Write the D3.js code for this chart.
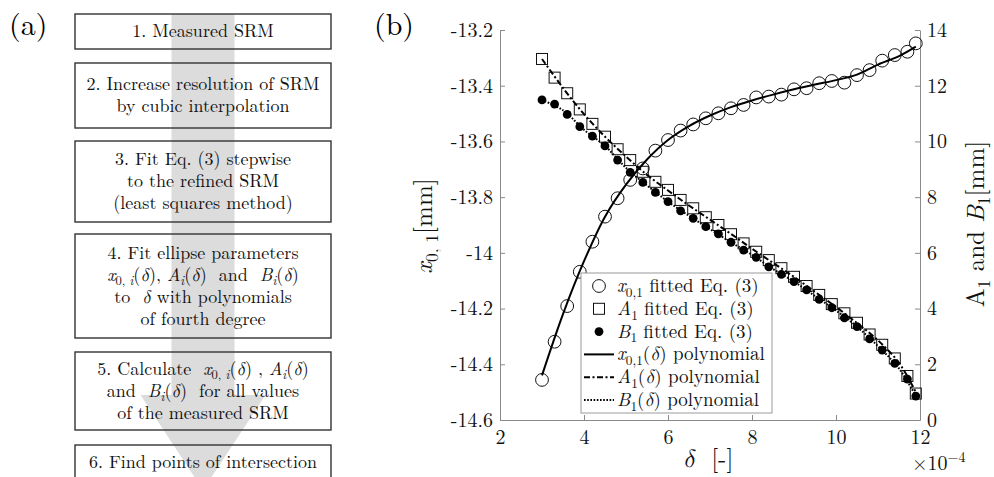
<!DOCTYPE html>
<html>
<head>
<meta charset="utf-8">
<script src="https://cdn.jsdelivr.net/npm/d3@7"></script>
<style>
  body { margin: 0; background: #fff; }
  svg { display: block; }
  text { white-space: pre; font-family: "Latin Modern Roman", "Latin Modern Math", "Liberation Serif", serif; }
</style>
</head>
<body>
<div id="chart"></div>
<script>
// fitted values, one per delta step (delta in 1e-4)
const delta = [3.0, 3.3, 3.6, 3.9, 4.2, 4.5, 4.8, 5.1, 5.4, 5.7, 6.0, 6.3, 6.6, 6.9, 7.2, 7.5,
  7.8, 8.1, 8.4, 8.7, 9.0, 9.3, 9.6, 9.9, 10.2, 10.5, 10.8, 11.1, 11.4, 11.7, 11.9];
const x01Fit = [-14.456, -14.319, -14.191, -14.068, -13.960, -13.870, -13.804, -13.738, -13.697,
  -13.633, -13.595, -13.561, -13.539, -13.517, -13.499, -13.481, -13.469, -13.442, -13.439,
  -13.432, -13.413, -13.409, -13.391, -13.383, -13.389, -13.362, -13.344, -13.310, -13.290,
  -13.278, -13.248];
const A1Fit = [12.96, 12.29, 11.73, 11.15, 10.63, 10.17, 9.72, 9.33, 8.91, 8.55, 8.26, 7.90, 7.60,
  7.28, 7.00, 6.67, 6.34, 6.04, 5.74, 5.45, 5.14, 4.81, 4.49, 4.16, 3.83, 3.49, 3.07, 2.70,
  2.21, 1.58, 0.95];
const B1Fit = [11.49, 11.34, 10.97, 10.53, 10.19, 9.84, 9.33, 8.89, 8.53, 8.17, 7.84, 7.51, 7.24,
  6.94, 6.68, 6.38, 6.10, 5.84, 5.50, 5.23, 4.97, 4.67, 4.33, 4.03, 3.67, 3.35, 2.91, 2.51,
  2.03, 1.47, 0.86];

// polynomial curves
const polyDelta = [3.0, 3.5, 4.0, 4.5, 5.0, 5.5, 6.0, 6.5, 7.0, 7.5, 8.0, 8.5, 9.0, 9.5, 10.0,
  10.5, 11.0, 11.5, 11.9];
const x01Poly = [-14.44, -14.22, -14.03, -13.87, -13.755, -13.665, -13.595, -13.545, -13.507,
  -13.477, -13.453, -13.432, -13.413, -13.396, -13.380, -13.360, -13.324, -13.294, -13.26];
const A1Poly = [12.96, 11.92, 10.98, 10.17, 9.46, 8.80, 8.24, 7.70, 7.19, 6.68, 6.15, 5.64, 5.14,
  4.60, 4.06, 3.48, 2.86, 2.05, 1.0];
const B1Poly = [11.49, 11.12, 10.42, 9.84, 9.05, 8.42, 7.84, 7.33, 6.85, 6.38, 5.93, 5.42, 4.97,
  4.45, 3.93, 3.35, 2.65, 1.85, 0.86];

const xTicks = [2, 4, 6, 8, 10, 12];
const yLeftTicks = [-14.6, -14.4, -14.2, -14, -13.8, -13.6, -13.4, -13.2];
const yRightTicks = [0, 2, 4, 6, 8, 10, 12, 14];

const legendItems = [
  { label: "$x$_{0,1} fitted Eq. (3)", kind: "circle" },
  { label: "$A$_{1} fitted Eq. (3)", kind: "square" },
  { label: "$B$_{1} fitted Eq. (3)", kind: "dot" },
  { label: "$x$_{0,1}($δ$) polynomial", kind: "solid" },
  { label: "$A$_{1}($δ$) polynomial", kind: "dashdot" },
  { label: "$B$_{1}($δ$) polynomial", kind: "dotted" }
];

const steps = [
  ["1. Measured SRM"],
  ["2. Increase resolution of SRM", "by cubic interpolation"],
  ["3. Fit Eq. (3) stepwise", "to the refined SRM", "(least squares method)"],
  ["4. Fit ellipse parameters", "$x$_{0, $i$}($δ$), $A$_{$i$}($δ$)  and  $B$_{$i$}($δ$)",
    "to  $δ$ with polynomials", "of fourth degree"],
  ["5. Calculate  $x$_{0, $i$}($δ$) , $A$_{$i$}($δ$)", "and  $B$_{$i$}($δ$)  for all values",
    "of the measured SRM"],
  ["6. Find points of intersection"]
];

const W = 994, H = 477;
const FONT = "'Latin Modern Roman', 'Latin Modern Math', 'Liberation Serif', serif";
const svg = d3.select("#chart").append("svg")
  .attr("width", W).attr("height", H);

// tiny markup: $..$ italic, _{..} subscript, ^{..} superscript
function parseMath(str) {
  const out = [];
  let italic = false, sub = false, sup = false, buf = "";
  const flush = () => { if (buf) { out.push({ t: buf, i: italic, sub, sup }); buf = ""; } };
  for (let k = 0; k < str.length; k++) {
    const c = str[k];
    if (c === "$") { flush(); italic = !italic; }
    else if (c === "_" && str[k + 1] === "{") { flush(); sub = true; k++; }
    else if (c === "^" && str[k + 1] === "{") { flush(); sup = true; k++; }
    else if (c === "}" && (sub || sup)) { flush(); sub = false; sup = false; }
    else buf += c;
  }
  flush();
  return out;
}

function mathText(g, str, size) {
  const text = g.append("text").style("font-size", size + "px")
    .style("font-family", FONT).attr("fill", "#111");
  let shift = 0;
  parseMath(str).forEach(p => {
    const target = p.sub ? size * 0.25 : p.sup ? -size * 0.42 : 0;
    text.append("tspan").text(p.t)
      .attr("dy", target - shift)
      .style("font-style", p.i ? "italic" : "normal")
      .style("font-size", (p.sub || p.sup) ? (size * 0.7) + "px" : null);
    shift = target;
  });
  return text;
}

// ---------- panel (a): flowchart ----------
const flow = svg.append("g");
const boxX = 75, boxW = 256, arrowC = 203;
const boxTop = [14, 63, 141, 234, 352, 445];
const boxH = [35, 65, 81, 104, 78, 60];

flow.append("path")
  .attr("d", d3.line()([[arrowC - 31.5, 14], [arrowC + 31.5, 14], [arrowC + 31.5, 395],
    [arrowC + 62.5, 395], [arrowC, 490], [arrowC - 62.5, 395], [arrowC - 31.5, 395]]) + "Z")
  .attr("fill", "#dcdcdc");

steps.forEach((lines, i) => {
  flow.append("rect")
    .attr("x", boxX).attr("y", boxTop[i])
    .attr("width", boxW).attr("height", boxH[i])
    .attr("fill", "none").attr("stroke", "#333").attr("stroke-width", 1.4);
  const cy = i === steps.length - 1 ? boxTop[i] + 17 : boxTop[i] + boxH[i] / 2;
  lines.forEach((ln, j) => {
    mathText(flow, ln, 18)
      .attr("x", boxX + boxW / 2)
      .attr("y", cy + (j - (lines.length - 1) / 2) * 22 + 5.5)
      .attr("text-anchor", "middle");
  });
});

svg.append("text").attr("x", 9).attr("y", 35).style("font-family", FONT).style("font-size", "30px").text("(a)");
svg.append("text").attr("x", 374).attr("y", 35).style("font-family", FONT).style("font-size", "30px").text("(b)");

// ---------- panel (b): chart ----------
const x = d3.scaleLinear().domain([2, 12]).range([500, 920]);
const yL = d3.scaleLinear().domain([-14.6, -13.2]).range([420, 30]);
const yR = d3.scaleLinear().domain([0, 14]).range([420, 30]);

const fmt = d => String(Math.round(d * 10) / 10);

const styleAxis = g => {
  g.select(".domain").attr("stroke", "#8a8a8a");
  g.selectAll(".tick line").attr("stroke", "#8a8a8a");
  g.selectAll(".tick text").attr("fill", "#111")
    .style("font-size", "20px").style("font-family", FONT);
};

svg.append("g").attr("transform", "translate(0,420)")
  .call(d3.axisBottom(x).tickValues(xTicks).tickSizeInner(-5).tickSizeOuter(0).tickPadding(10))
  .call(styleAxis);
svg.append("g").attr("transform", "translate(500,0)")
  .call(d3.axisLeft(yL).tickValues(yLeftTicks).tickFormat(fmt).tickSizeInner(-5).tickSizeOuter(0).tickPadding(7))
  .call(styleAxis);
svg.append("g").attr("transform", "translate(920,0)")
  .call(d3.axisRight(yR).tickValues(yRightTicks).tickSizeInner(-5).tickSizeOuter(0).tickPadding(7))
  .call(styleAxis);

// axis labels
mathText(svg, "$x$_{0, 1}[mm]", 25)
  .attr("text-anchor", "middle")
  .attr("transform", "translate(432,226) rotate(-90)");
mathText(svg, "A_{1} and $B$_{1}[mm]", 25)
  .attr("text-anchor", "middle")
  .attr("transform", "translate(984,224) rotate(-90)");
mathText(svg, "$δ$  [-]", 25)
  .attr("x", 708).attr("y", 467).attr("text-anchor", "middle");
mathText(svg, "×10^{−4}", 20)
  .attr("x", 912).attr("y", 470);

// polynomial lines
const lineL = d3.line().x((d, i) => x(polyDelta[i])).y(d => yL(d)).curve(d3.curveCatmullRom);
const lineR = d3.line().x((d, i) => x(polyDelta[i])).y(d => yR(d)).curve(d3.curveCatmullRom);

const plot = svg.append("g");

// markers
plot.selectAll(".sq").data(A1Fit).join("rect")
  .attr("x", (d, i) => x(delta[i]) - 5.5).attr("y", d => yR(d) - 5.5)
  .attr("width", 11).attr("height", 11)
  .attr("fill", "none").attr("stroke", "#111").attr("stroke-width", 1);
plot.selectAll(".dot").data(B1Fit).join("circle")
  .attr("cx", (d, i) => x(delta[i])).attr("cy", d => yR(d)).attr("r", 4.4)
  .attr("fill", "#000");
plot.selectAll(".ring").data(x01Fit).join("circle")
  .attr("cx", (d, i) => x(delta[i])).attr("cy", d => yL(d)).attr("r", 6.4)
  .attr("fill", "none").attr("stroke", "#111").attr("stroke-width", 1);

plot.append("path").datum(x01Poly).attr("d", lineL)
  .attr("fill", "none").attr("stroke", "#000").attr("stroke-width", 2);
plot.append("path").datum(A1Poly).attr("d", lineR)
  .attr("fill", "none").attr("stroke", "#000").attr("stroke-width", 2)
  .attr("stroke-dasharray", "6,2.5,2,2.5");
plot.append("path").datum(B1Poly).attr("d", lineR)
  .attr("fill", "none").attr("stroke", "#000").attr("stroke-width", 2)
  .attr("stroke-dasharray", "1.6,1.6");

// legend
const legend = svg.append("g");
legend.append("rect")
  .attr("x", 581).attr("y", 273).attr("width", 191).attr("height", 140)
  .attr("fill", "#fff").attr("stroke", "#9a9a9a").attr("stroke-width", 1);

legendItems.forEach((it, i) => {
  const cy = 286 + i * 22.8;
  if (it.kind === "circle") {
    legend.append("circle").attr("cx", 599).attr("cy", cy).attr("r", 6.4)
      .attr("fill", "none").attr("stroke", "#111");
  } else if (it.kind === "square") {
    legend.append("rect").attr("x", 593.5).attr("y", cy - 5.5).attr("width", 11).attr("height", 11)
      .attr("fill", "none").attr("stroke", "#111");
  } else if (it.kind === "dot") {
    legend.append("circle").attr("cx", 599).attr("cy", cy).attr("r", 4.4).attr("fill", "#000");
  } else {
    legend.append("line").attr("x1", 584).attr("x2", 614).attr("y1", cy).attr("y2", cy)
      .attr("stroke", "#000").attr("stroke-width", 2)
      .attr("stroke-dasharray", it.kind === "dashdot" ? "6,2.5,2,2.5" : it.kind === "dotted" ? "1.6,1.6" : null);
  }
  mathText(legend, it.label, 19).attr("x", 617).attr("y", cy + 6);
});
</script>
</body>
</html>
